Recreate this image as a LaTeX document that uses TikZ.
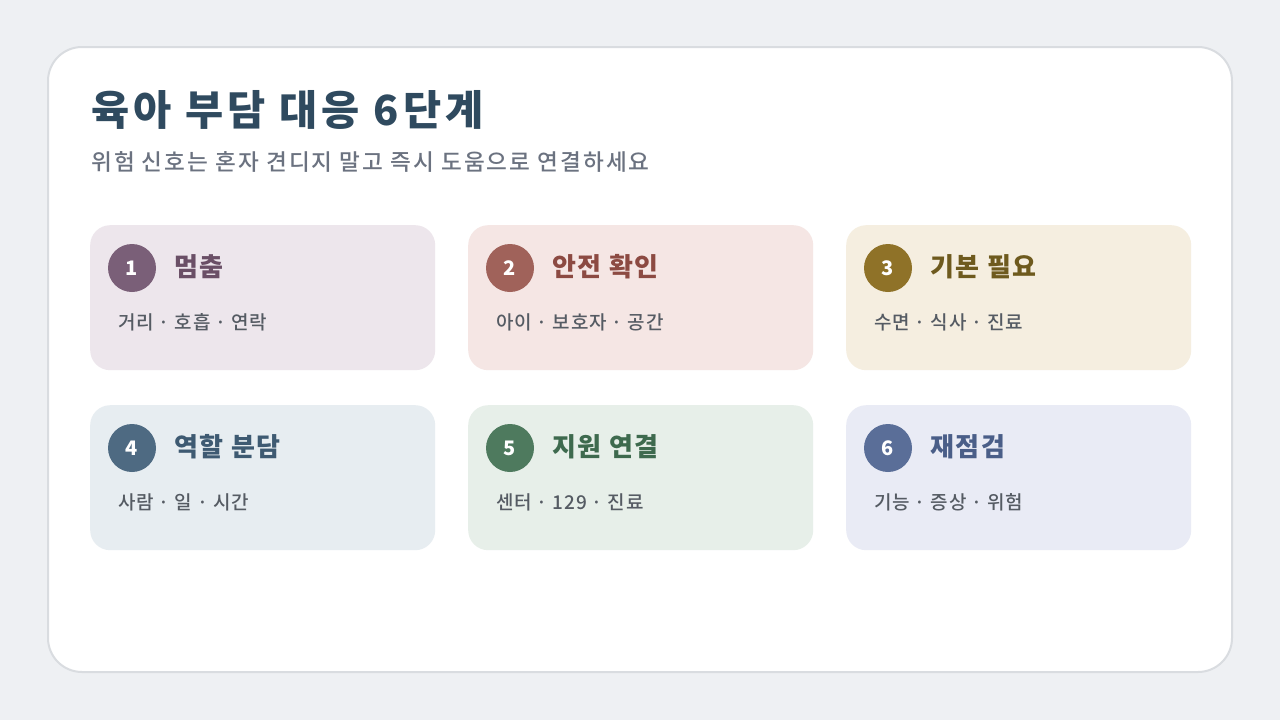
\documentclass[tikz,border=0pt]{standalone}
\usepackage{fontspec}
\setmainfont{Noto Sans CJK KR}
\newfontfamily\medfont{Noto Sans CJK KR Medium}
\usetikzlibrary{positioning}

\definecolor{pagebg}{HTML}{EEF0F3}
\definecolor{frameline}{HTML}{D9DCE0}
\definecolor{headcol}{HTML}{2F4A5F}
\definecolor{subcol}{HTML}{6B7280}
\definecolor{itemcol}{HTML}{555B63}
\definecolor{dotA}{HTML}{7A5F78}
\definecolor{bgA}{HTML}{EDE6EC}
\definecolor{txA}{HTML}{6A4F66}
\definecolor{dotB}{HTML}{A0625A}
\definecolor{bgB}{HTML}{F5E6E4}
\definecolor{txB}{HTML}{8C4A42}
\definecolor{dotC}{HTML}{8F7228}
\definecolor{bgC}{HTML}{F5EEE0}
\definecolor{txC}{HTML}{6E5A1E}
\definecolor{dotD}{HTML}{4E6A82}
\definecolor{bgD}{HTML}{E7EDF1}
\definecolor{txD}{HTML}{3E5A72}
\definecolor{dotE}{HTML}{4E7A5E}
\definecolor{bgE}{HTML}{E7EFE9}
\definecolor{txE}{HTML}{3E6A4E}
\definecolor{dotF}{HTML}{5A6E98}
\definecolor{bgF}{HTML}{E9EBF5}
\definecolor{txF}{HTML}{4A5E88}

\tikzset{
  stepcard/.style = {shape = rectangle, rounded corners = 20pt, minimum width = 345pt, minimum height = 145pt, anchor = north west, inner sep = 0pt},
  stepdot/.style = {shape = circle, minimum size = 48pt, inner sep = 0pt, text = white, font = \bfseries\fontsize{20}{24}\selectfont},
  steptitle/.style = {inner sep = 0pt, anchor = west, font = \bfseries\fontsize{26}{30}\selectfont\addfontfeatures{LetterSpace=6}},
  stepitems/.style = {inner sep = 0pt, anchor = west, text = itemcol, font = \medfont\fontsize{19}{22}\selectfont\addfontfeatures{LetterSpace=4}}
}

\begin{document}
\begin{tikzpicture}[x = 1pt, y = -1pt]
\fill[pagebg] (0,0) rectangle (1280,720);
\useasboundingbox (0,0) rectangle (1280,720);
\draw[frameline, line width = 2pt, fill = white, rounded corners = 34pt] (48,47) rectangle (1232,672);

\node[inner sep = 0pt, anchor = west, text = headcol, font = \bfseries\fontsize{41.5}{48}\selectfont\addfontfeatures{LetterSpace=10}] (head) at (91,110) {육아 부담 대응 6단계};
\node[inner sep = 0pt, anchor = west, text = subcol, font = \medfont\fontsize{22.6}{26}\selectfont\addfontfeatures{LetterSpace=9}] (sub) at (91,162) {위험 신호는 혼자 견디지 말고 즉시 도움으로 연결하세요};

% row 1
\node[stepcard, fill = bgA] (c1) at (90,225) {};
\node[stepdot, fill = dotA] (n1) at (132,268) {1};
\node[steptitle, text = txA, right = 18pt of n1.east, yshift = 1pt] (t1) {멈춤};
\node[stepitems] (i1) at (118,322) {거리 · 호흡 · 연락};

\node[stepcard, fill = bgB] (c2) at (468,225) {};
\node[stepdot, fill = dotB] (n2) at (510,268) {2};
\node[steptitle, text = txB, right = 18pt of n2.east, yshift = 1pt] (t2) {안전 확인};
\node[stepitems] (i2) at (496,322) {아이 · 보호자 · 공간};

\node[stepcard, fill = bgC] (c3) at (846,225) {};
\node[stepdot, fill = dotC] (n3) at (888,268) {3};
\node[steptitle, text = txC, right = 18pt of n3.east, yshift = 1pt] (t3) {기본 필요};
\node[stepitems] (i3) at (874,322) {수면 · 식사 · 진료};

% row 2
\node[stepcard, fill = bgD] (c4) at (90,405) {};
\node[stepdot, fill = dotD] (n4) at (132,448) {4};
\node[steptitle, text = txD, right = 18pt of n4.east, yshift = 1pt] (t4) {역할 분담};
\node[stepitems] (i4) at (118,502) {사람 · 일 · 시간};

\node[stepcard, fill = bgE] (c5) at (468,405) {};
\node[stepdot, fill = dotE] (n5) at (510,448) {5};
\node[steptitle, text = txE, right = 18pt of n5.east, yshift = 1pt] (t5) {지원 연결};
\node[stepitems] (i5) at (496,502) {센터 · 129 · 진료};

\node[stepcard, fill = bgF] (c6) at (846,405) {};
\node[stepdot, fill = dotF] (n6) at (888,448) {6};
\node[steptitle, text = txF, right = 18pt of n6.east, yshift = 1pt] (t6) {재점검};
\node[stepitems] (i6) at (874,502) {기능 · 증상 · 위험};
\end{tikzpicture}
\end{document}
